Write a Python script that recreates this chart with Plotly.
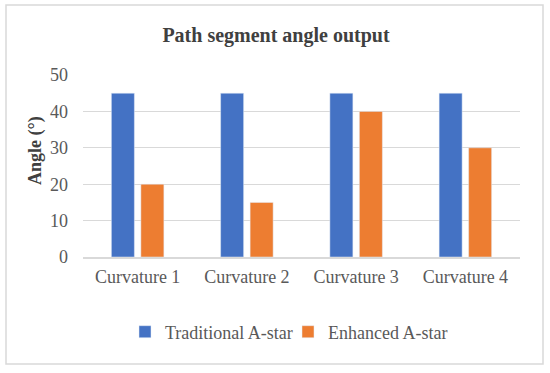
import plotly.graph_objects as go

categories = ["Curvature 1", "Curvature 2", "Curvature 3", "Curvature 4"]
traditional = [45, 45, 45, 45]
enhanced = [20, 15, 40, 30]
y_ticks = [0, 10, 20, 30, 40, 50]

font_family = "Liberation Serif, Times New Roman, serif"

L, R, T, B = 83, 520, 75, 257
W, H = 550, 373
pw, ph = R - L, B - T

fig = go.Figure()
fig.add_trace(go.Bar(name="Traditional A-star", x=categories, y=traditional, marker_color="#4472C4"))
fig.add_trace(go.Bar(name="Enhanced A-star", x=categories, y=enhanced, marker_color="#ED7D31"))

fig.update_layout(
    width=W, height=H,
    paper_bgcolor="white", plot_bgcolor="white",
    margin=dict(l=L, r=W - R, t=T, b=H - B, autoexpand=False),
    barmode="group", bargap=0.46, bargroupgap=0.22,
    title=dict(text="<b>Path segment angle output</b>", x=(276 - L) / pw, xref="paper", xanchor="center",
               y=1 - 35 / H, yref="container", yanchor="middle",
               font=dict(family=font_family, size=20, color="#404040")),
    font=dict(family=font_family, size=18, color="#595959"),
    legend=dict(orientation="h", x=(125 - L) / pw, xanchor="left", y=(B - 332) / ph, yanchor="middle",
                font=dict(size=18, color="#595959"), itemwidth=30, traceorder="normal",
                entrywidth=118),
    annotations=[dict(text="<b>Angle (°)</b>", xref="paper", yref="paper",
                      x=(35 - L) / pw, y=(B - 151) / ph, xanchor="center", yanchor="middle",
                      textangle=-90, showarrow=False,
                      font=dict(family=font_family, size=18, color="#404040"))],
)
fig.add_shape(type="rect", xref="paper", yref="paper",
              x0=(6 - L) / pw, x1=(543 - L) / pw, y0=(B - 364) / ph, y1=(B - 5) / ph,
              line=dict(color="#D9D9D9", width=1.5), layer="below")

fig.update_yaxes(range=[0, 50], tickvals=y_ticks, showgrid=True, gridcolor="#D9D9D9",
                 zeroline=False, showline=False, ticks="", automargin=False,
                 ticklabelstandoff=14, tickfont=dict(size=18, color="#595959"))
fig.update_xaxes(showline=True, linecolor="#D9D9D9", linewidth=1.5, ticks="", automargin=False,
                 ticklabelstandoff=3, tickfont=dict(size=18, color="#595959"))

fig.write_html("out.html", config={"displayModeBar": False},
               post_script="document.body.style.margin='0px';")
